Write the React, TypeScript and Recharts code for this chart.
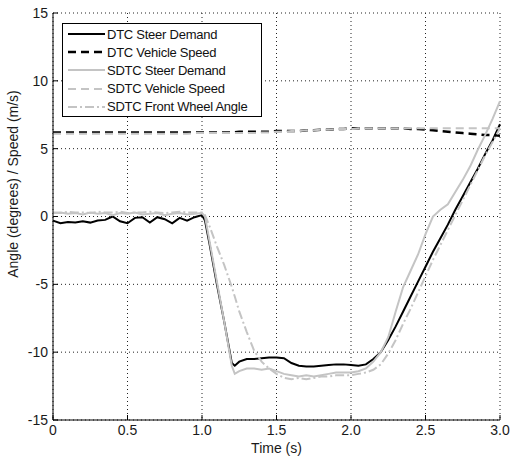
import { LineChart, Line, XAxis, YAxis, CartesianGrid, Legend } from 'recharts'

// time base (s) shared by all five traces
const TIME = [
  0, 0.05, 0.1, 0.15, 0.2, 0.25, 0.3, 0.35, 0.4, 0.45, 0.5, 0.55, 0.6, 0.65, 0.7, 0.75, 0.8, 0.85, 0.9, 0.95, 1.0,
  1.02, 1.05, 1.08, 1.1, 1.15, 1.2, 1.22, 1.25, 1.3,
  1.35, 1.4, 1.45, 1.5, 1.55, 1.6, 1.65, 1.7, 1.75, 1.8, 1.85, 1.9, 1.95, 2.0, 2.05, 2.1, 2.15, 2.2,
  2.25, 2.3, 2.35, 2.4, 2.45, 2.5, 2.55, 2.6, 2.65, 2.7, 2.75, 2.8, 2.85, 2.9, 2.95, 3.0,
]

const DTC_STEER = [
  -0.3, -0.5, -0.4, -0.45, -0.35, -0.45, -0.3, -0.25, 0.0, -0.35, -0.5, -0.1, -0.05, -0.45, -0.05, -0.2, -0.5, -0.1, -0.3, -0.05, 0.1,
  -0.3, -2.0, -3.8, -5.0, -7.8, -10.8, -11.0, -10.7, -10.5,
  -10.5, -10.45, -10.4, -10.4, -10.45, -10.8, -11.0, -11.05, -11.05, -11.0, -10.95, -10.9, -10.9, -10.95, -11.0, -10.9, -10.5, -10.0,
  -9.1, -8.1, -7.0, -5.9, -4.8, -3.7, -2.6, -1.6, -0.6, 0.5, 1.5, 2.5, 3.5, 4.6, 5.6, 6.8,
]

const DTC_SPEED = [
  6.2, 6.2, 6.2, 6.2, 6.2, 6.2, 6.2, 6.2, 6.2, 6.2, 6.2, 6.2, 6.2, 6.2, 6.2, 6.2, 6.2, 6.2, 6.2, 6.2, 6.2,
  6.2, 6.2, 6.2, 6.2, 6.2, 6.2, 6.2, 6.25, 6.25,
  6.25, 6.25, 6.25, 6.3, 6.3, 6.3, 6.3, 6.35, 6.35, 6.4, 6.4, 6.45, 6.45, 6.5, 6.5, 6.5, 6.5, 6.5,
  6.5, 6.5, 6.5, 6.45, 6.45, 6.4, 6.35, 6.3, 6.25, 6.2, 6.15, 6.1, 6.05, 6.0, 6.0, 5.95,
]

const SDTC_STEER = [
  0.25, 0.3, 0.2, 0.25, 0.15, 0.3, 0.2, 0.25, 0.1, 0.25, 0.2, 0.3, 0.15, 0.2, 0.25, 0.1, 0.2, 0.25, 0.15, 0.2, 0.25,
  0.0, -1.8, -3.6, -4.8, -7.8, -11.0, -11.6, -11.4, -11.2,
  -11.2, -11.3, -11.2, -11.4, -11.6, -11.7, -11.8, -11.7, -11.8, -11.7, -11.6, -11.5, -11.5, -11.5, -11.4, -11.2, -10.7, -10.0,
  -8.9, -7.0, -5.2, -4.0, -2.8, -1.3, 0.0, 0.5, 0.9, 1.8, 2.7, 3.7, 4.9, 6.0, 7.2, 8.5,
]

const SDTC_SPEED = [
  6.1, 6.1, 6.1, 6.1, 6.1, 6.1, 6.1, 6.1, 6.1, 6.1, 6.1, 6.1, 6.1, 6.1, 6.1, 6.1, 6.1, 6.1, 6.1, 6.15, 6.15,
  6.15, 6.15, 6.15, 6.15, 6.15, 6.15, 6.15, 6.15, 6.15,
  6.15, 6.2, 6.2, 6.25, 6.25, 6.3, 6.3, 6.35, 6.35, 6.4, 6.4, 6.45, 6.45, 6.45, 6.5, 6.5, 6.5, 6.5,
  6.5, 6.5, 6.5, 6.5, 6.5, 6.5, 6.5, 6.5, 6.5, 6.5, 6.5, 6.5, 6.5, 6.5, 6.5, 6.5,
]

const SDTC_WHEEL = [
  0.3, 0.25, 0.35, 0.3, 0.3, 0.25, 0.35, 0.3, 0.3, 0.35, 0.25, 0.3, 0.3, 0.35, 0.3, 0.25, 0.3, 0.35, 0.3, 0.3, 0.3,
  0.1, -0.7, -1.6, -2.2, -3.6, -5.2, -5.9, -7.0, -8.5,
  -9.9, -10.7, -11.2, -11.6, -11.9, -12.0, -11.9, -12.0, -11.9, -11.8, -11.8, -11.7, -11.7, -11.7, -11.6, -11.5, -11.3, -10.9,
  -10.1, -9.1, -7.9, -6.8, -5.6, -4.4, -3.2, -2.1, -1.0, 0.1, 1.2, 2.3, 3.4, 4.5, 5.5, 6.5,
]

const SERIES_NAMES = [
  'DTC Steer Demand',
  'DTC Vehicle Speed',
  'SDTC Steer Demand',
  'SDTC Vehicle Speed',
  'SDTC Front Wheel Angle',
]

const X_TICKS = [0, 0.5, 1, 1.5, 2, 2.5, 3]
const Y_TICKS = [-15, -10, -5, 0, 5, 10, 15]

const data = TIME.map((t, i) => ({
  t,
  dtcSteer: DTC_STEER[i],
  dtcSpeed: DTC_SPEED[i],
  sdtcSteer: SDTC_STEER[i],
  sdtcSpeed: SDTC_SPEED[i],
  sdtcWheel: SDTC_WHEEL[i],
}))

const FONT = '"Liberation Sans", Arial, sans-serif'
const TICK = { fontSize: 14, fill: '#1a1a1a', fontFamily: FONT }
const AXIS_LINE = { stroke: '#000' }
const GRAY = '#c4c4c4'

const xTickFormatter = (v: number) => (v === 0 ? '0' : v.toFixed(1))

// eslint-disable-next-line @typescript-eslint/no-explicit-any
function LegendBox(props: any) {
  // keep plot order (recharts sorts legend items by name otherwise)
  // eslint-disable-next-line @typescript-eslint/no-explicit-any
  const items = [...(props.payload || [])].sort((a: any, b: any) =>
    SERIES_NAMES.indexOf(a.value) - SERIES_NAMES.indexOf(b.value))
  return (
    <div style={{
      border: '1px solid #000', background: '#fff', width: 198, height: 91,
      paddingTop: 1, boxSizing: 'content-box', fontFamily: FONT, fontSize: 13,
      letterSpacing: -0.25, color: '#111',
    }}>
      {/* eslint-disable-next-line @typescript-eslint/no-explicit-any */}
      {items.map((entry: any) => (
        <div key={entry.value} style={{ display: 'flex', alignItems: 'center', height: 18.2, whiteSpace: 'nowrap' }}>
          <svg width={44} height={10} style={{ flex: 'none' }}>
            <line
              x1={5} y1={5} x2={42} y2={5}
              stroke={entry.color}
              strokeWidth={entry.payload?.strokeWidth ?? 2}
              strokeDasharray={entry.payload?.strokeDasharray}
            />
          </svg>
          <span>{entry.value}</span>
        </div>
      ))}
    </div>
  )
}

const YTitle = () => (
  <text
    transform="translate(18,184) rotate(-90)"
    textAnchor="middle"
    fontSize={14}
    fontFamily={FONT}
    fill="#1a1a1a"
  >
    Angle (degrees) / Speed (m/s)
  </text>
)

export default function App() {
  return (
    <div style={{ position: 'absolute', left: 0, top: 0, background: '#fff' }}>
      <LineChart width={510} height={460} data={data} margin={{ top: 13, right: 10, bottom: 0, left: 0 }}>
        <CartesianGrid stroke="#222" strokeDasharray="1 3" />
        <XAxis
          type="number" dataKey="t" domain={[0, 3]} ticks={X_TICKS}
          tickFormatter={xTickFormatter} tick={TICK} tickSize={-5} tickMargin={10}
          axisLine={AXIS_LINE} tickLine={AXIS_LINE} height={40}
          label={{ value: 'Time (s)', position: 'insideBottom', offset: 7, fontSize: 14, fontFamily: FONT, fill: '#1a1a1a' }}
        />
        <XAxis
          xAxisId="top" orientation="top" type="number" dataKey="t" domain={[0, 3]} ticks={X_TICKS}
          tick={false} tickSize={-5} axisLine={AXIS_LINE} tickLine={AXIS_LINE} height={0}
        />
        <YAxis
          type="number" domain={[-15, 15]} ticks={Y_TICKS} tick={TICK} tickSize={-5} tickMargin={10}
          axisLine={AXIS_LINE} tickLine={AXIS_LINE} width={53} label={<YTitle />}
        />
        <YAxis
          yAxisId="right" orientation="right" type="number" domain={[-15, 15]} ticks={Y_TICKS}
          tick={false} tickSize={-5} axisLine={AXIS_LINE} tickLine={AXIS_LINE} width={0}
        />
        <Legend
          layout="vertical" align="center" verticalAlign="middle"
          content={<LegendBox />}
          wrapperStyle={{ left: 62, top: 23, width: 200, height: 93 }}
        />
        <Line name={SERIES_NAMES[0]} dataKey="dtcSteer" stroke="#000" strokeWidth={2} dot={false} isAnimationActive={false} />
        <Line name={SERIES_NAMES[1]} dataKey="dtcSpeed" stroke="#000" strokeWidth={2.5} strokeDasharray="8 5" dot={false} isAnimationActive={false} />
        <Line name={SERIES_NAMES[2]} dataKey="sdtcSteer" stroke={GRAY} strokeWidth={2} dot={false} isAnimationActive={false} />
        <Line name={SERIES_NAMES[3]} dataKey="sdtcSpeed" stroke={GRAY} strokeWidth={2} strokeDasharray="8 5" dot={false} isAnimationActive={false} />
        <Line name={SERIES_NAMES[4]} dataKey="sdtcWheel" stroke={GRAY} strokeWidth={2} strokeDasharray="9 3 2 3" dot={false} isAnimationActive={false} />
      </LineChart>
    </div>
  )
}
